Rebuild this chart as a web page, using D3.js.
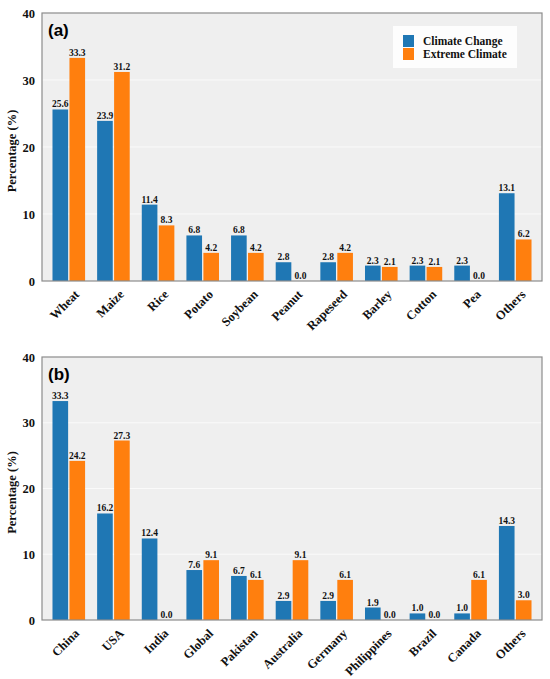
<!DOCTYPE html>
<html>
<head>
<meta charset="utf-8">
<script src="https://cdn.jsdelivr.net/npm/d3@7"></script>
<style>
  body { margin: 0; background: #fff; }
</style>
</head>
<body>
<script>
// crops (panel a)
const crops = ["Wheat", "Maize", "Rice", "Potato", "Soybean", "Peanut", "Rapeseed", "Barley", "Cotton", "Pea", "Others"];
const cropChange = [25.6, 23.9, 11.4, 6.8, 6.8, 2.8, 2.8, 2.3, 2.3, 2.3, 13.1];
const cropExtreme = [33.3, 31.2, 8.3, 4.2, 4.2, 0.0, 4.2, 2.1, 2.1, 0.0, 6.2];

// countries (panel b)
const countries = ["China", "USA", "India", "Global", "Pakistan", "Australia", "Germany", "Philippines", "Brazil", "Canada", "Others"];
const countryChange = [33.3, 16.2, 12.4, 7.6, 6.7, 2.9, 2.9, 1.9, 1.0, 1.0, 14.3];
const countryExtreme = [24.2, 27.3, 0.0, 9.1, 6.1, 9.1, 6.1, 0.0, 0.0, 6.1, 3.0];

const yTicks = [0, 10, 20, 30, 40];
const seriesNames = ["Climate Change", "Extreme Climate"];
const colors = ["#1f77b4", "#ff7f0e"];
const serif = "'Liberation Serif', 'DejaVu Serif', serif";

const svg = d3.select("body").append("svg")
  .attr("width", 550)
  .attr("height", 679);

function label(sel, size) {
  return sel.style("font-family", serif)
    .style("font-weight", "bold")
    .style("font-size", size + "px")
    .style("fill", "#111");
}

function panel(top, bottom, cats, s1, s2, tag, legend) {
  const left = 42, right = 542;
  const x = d3.scaleLinear().domain([-0.6, cats.length - 0.4]).range([left, right]);
  const y = d3.scaleLinear().domain([0, 40]).range([bottom, top]);
  const g = svg.append("g");

  g.append("rect")
    .attr("x", left).attr("y", top)
    .attr("width", right - left).attr("height", bottom - top)
    .attr("fill", "#efefef");

  // grid
  g.selectAll(".grid").data(yTicks.slice(1, -1)).enter()
    .append("line")
    .attr("x1", left).attr("x2", right)
    .attr("y1", d => y(d)).attr("y2", d => y(d))
    .attr("stroke", "#fafafa").attr("stroke-width", 1);

  const rows = cats.map((c, i) => ({ c: c, i: i, v: [s1[i], s2[i]] }));
  const bw = 0.35, off = 0.19;

  [0, 1].forEach(k => {
    g.selectAll(".bar" + k).data(rows).enter()
      .append("rect")
      .attr("x", d => x(d.i + (k ? off : -off) - bw / 2))
      .attr("width", x(bw) - x(0))
      .attr("y", d => y(d.v[k]))
      .attr("height", d => y(0) - y(d.v[k]))
      .attr("fill", colors[k]);

    label(g.selectAll(".lab" + k).data(rows).enter()
      .append("text")
      .attr("x", d => x(d.i + (k ? off : -off)))
      .attr("y", d => y(d.v[k]) - 2)
      .attr("text-anchor", "middle"), 9.5)
      .text(d => d.v[k].toFixed(1));
  });

  // frame
  g.append("rect")
    .attr("x", left).attr("y", top)
    .attr("width", right - left).attr("height", bottom - top)
    .attr("fill", "none")
    .attr("stroke", "#8c8c8c").attr("stroke-width", 1.2);

  // y axis
  const ya = g.append("g")
    .attr("transform", `translate(${left},0)`)
    .call(d3.axisLeft(y).tickValues(yTicks).tickSize(0).tickPadding(7));
  ya.select(".domain").remove();
  label(ya.selectAll("text"), 12.5);

  // x labels
  label(g.selectAll(".cat").data(rows).enter()
    .append("text")
    .attr("transform", d => `translate(${x(d.i) + 5},${bottom + 8}) rotate(-45)`)
    .attr("text-anchor", "end")
    .attr("dy", "0.7em"), 12.5)
    .text(d => d.c);

  label(g.append("text")
    .attr("transform", `translate(16,${(top + bottom) / 2 + 4}) rotate(-90)`)
    .attr("text-anchor", "middle"), 12.5)
    .text("Percentage (%)");

  g.append("text")
    .attr("x", left + 6).attr("y", top + 23)
    .style("font-family", "'Liberation Sans', Arial, sans-serif")
    .style("font-weight", "bold")
    .style("font-size", "17px")
    .text(tag);

  if (legend) {
    const lg = g.append("g").attr("transform", "translate(393,26)");
    lg.append("rect").attr("width", 124).attr("height", 42).attr("fill", "#fff").attr("opacity", 0.85);
    seriesNames.forEach((n, k) => {
      lg.append("rect").attr("x", 10).attr("y", 9 + k * 13).attr("width", 11).attr("height", 12).attr("fill", colors[k]);
      label(lg.append("text").attr("x", 30).attr("y", 19 + k * 13), 11.5).text(n);
    });
  }
}

panel(13, 281, crops, cropChange, cropExtreme, "(a)", true);
panel(357, 620, countries, countryChange, countryExtreme, "(b)", false);
</script>
</body>
</html>
